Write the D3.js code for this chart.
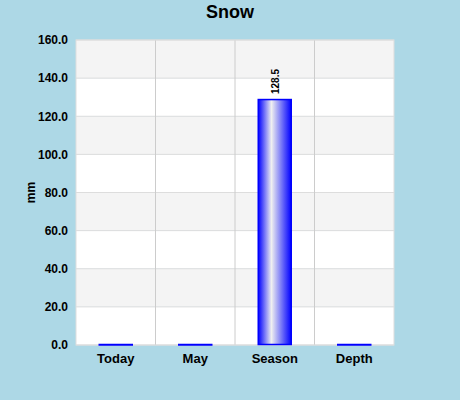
<!DOCTYPE html>
<html>
<head>
<meta charset="utf-8">
<script src="https://cdn.jsdelivr.net/npm/d3@7"></script>
<style>
  body { margin: 0; background: #add8e6; }
  text { font-family: "Liberation Sans", Arial, sans-serif; }
</style>
</head>
<body>
<div id="chart"></div>
<script>
const categories = ["Today", "May", "Season", "Depth"];
const values = [0, 0, 128.5, 0];
const yTicks = [0, 20, 40, 60, 80, 100, 120, 140, 160];

const W = 460, H = 400;
const MARGIN = { TOP: 40, RIGHT: 66, BOTTOM: 55, LEFT: 76 };
const WIDTH = W - MARGIN.LEFT - MARGIN.RIGHT;
const HEIGHT = H - MARGIN.TOP - MARGIN.BOTTOM;

const data = categories.map((c, i) => ({ cat: c, value: values[i] }));

const svg = d3.select("#chart").append("svg")
  .attr("width", W).attr("height", H);

svg.append("rect").attr("width", W).attr("height", H).attr("fill", "#add8e6");

const defs = svg.append("defs");
const grad = defs.append("linearGradient").attr("id", "barGrad")
  .attr("x1", "0%").attr("x2", "100%").attr("y1", "0%").attr("y2", "0%");
grad.append("stop").attr("offset", "0%").attr("stop-color", "#0000ff");
grad.append("stop").attr("offset", "40%").attr("stop-color", "#f0f0f0");
grad.append("stop").attr("offset", "100%").attr("stop-color", "#0000ff");

svg.append("text")
  .attr("x", W / 2).attr("y", 18)
  .attr("text-anchor", "middle")
  .attr("font-size", 18).attr("font-weight", "bold")
  .text("Snow");

const g = svg.append("g").attr("transform", `translate(${MARGIN.LEFT},${MARGIN.TOP})`);

const y = d3.scaleLinear().domain([0, 160]).range([HEIGHT, 0]);
const x = d3.scaleBand().domain(categories).range([0, WIDTH]).paddingInner(0).paddingOuter(0);

// background bands
g.selectAll(".band")
  .data(yTicks.slice(0, -1))
  .enter().append("rect")
  .attr("x", 0).attr("width", WIDTH)
  .attr("y", d => y(d + 20)).attr("height", d => y(d) - y(d + 20))
  .attr("fill", (d, i) => (i % 2 === 1 ? "#f4f4f4" : "#ffffff"));

// horizontal grid
g.selectAll(".hgrid")
  .data(yTicks)
  .enter().append("line")
  .attr("x1", 0).attr("x2", WIDTH)
  .attr("y1", d => y(d)).attr("y2", d => y(d))
  .attr("stroke", "#dddddd");

// vertical grid at category boundaries
g.selectAll(".vgrid")
  .data(categories.slice(1))
  .enter().append("line")
  .attr("x1", d => x(d)).attr("x2", d => x(d))
  .attr("y1", 0).attr("y2", HEIGHT)
  .attr("stroke", "#cccccc");

g.append("rect")
  .attr("width", WIDTH).attr("height", HEIGHT)
  .attr("fill", "none").attr("stroke", "#dddddd");

// y axis
const yAxis = g.append("g")
  .call(d3.axisLeft(y).tickValues(yTicks).tickFormat(d3.format(".1f")).tickSize(0).tickPadding(8));
yAxis.select(".domain").remove();
yAxis.selectAll("text")
  .attr("font-size", 12).attr("font-weight", "bold").attr("fill", "#000")
  .style("font-family", "'Liberation Sans', Arial, sans-serif");

// x axis
const xAxis = g.append("g").attr("transform", `translate(0,${HEIGHT})`)
  .call(d3.axisBottom(x).tickSize(0).tickPadding(9));
xAxis.select(".domain").remove();
xAxis.selectAll("text")
  .attr("font-size", 13).attr("font-weight", "bold").attr("fill", "#000")
  .style("font-family", "'Liberation Sans', Arial, sans-serif");

svg.append("text")
  .attr("transform", `translate(35,${MARGIN.TOP + HEIGHT / 2}) rotate(-90)`)
  .attr("text-anchor", "middle")
  .attr("font-size", 12).attr("font-weight", "bold")
  .text("mm");

// bars
const barW = 33;
g.selectAll(".bar")
  .data(data)
  .enter().append("rect")
  .attr("x", d => x(d.cat) + x.bandwidth() / 2 - barW / 2)
  .attr("width", barW)
  .attr("y", d => y(d.value) - 0.5)
  .attr("height", d => Math.max(0.5, HEIGHT - y(d.value)))
  .attr("fill", "url(#barGrad)")
  .attr("stroke", "#0000ff").attr("stroke-width", 1.5);

// value labels
g.selectAll(".lbl")
  .data(data.filter(d => d.value > 0))
  .enter().append("text")
  .attr("transform", d =>
    `translate(${x(d.cat) + x.bandwidth() / 2 + 4},${y(d.value) - 6}) rotate(-90)`)
  .attr("font-size", 10).attr("font-weight", "bold")
  .text(d => d.value.toFixed(1));
</script>
</body>
</html>
